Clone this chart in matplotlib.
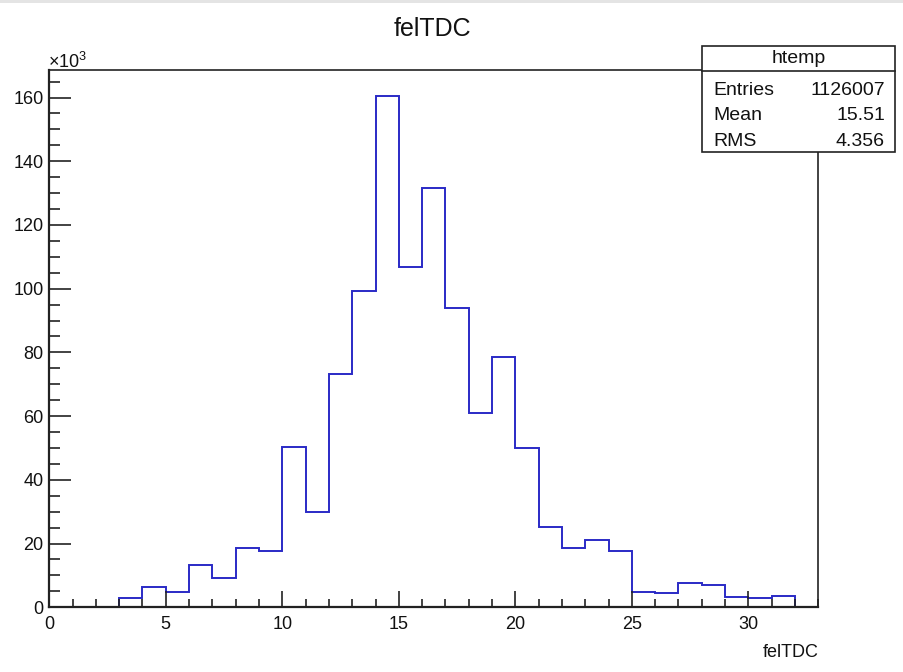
import matplotlib
matplotlib.use("Agg")
import matplotlib.pyplot as plt
from matplotlib.ticker import MultipleLocator
from matplotlib.patches import Rectangle

# felTDC distribution, one bin per TDC count, counts in thousands
bin_edges = list(range(0, 34))
counts_k = [0, 0, 0, 3.0, 6.4, 4.8, 13.2, 9.1, 18.5, 17.7,
            50.4, 29.9, 73.2, 99.4, 160.6, 106.7, 131.5, 93.9, 60.9, 78.7,
            50.1, 25.3, 18.6, 21.2, 17.6, 4.8, 4.5, 7.5, 7.0, 3.3,
            3.0, 3.4, 0]

hist_name = "htemp"
stat_labels = ["Entries", "Mean", "RMS"]
stat_values = ["1126007", "15.51", "4.356"]
title = "felTDC"
x_label = "felTDC"

plt.rcParams["font.family"] = ["Liberation Sans", "DejaVu Sans"]
plt.rcParams["mathtext.fontset"] = "custom"
plt.rcParams["mathtext.rm"] = "Liberation Sans"
plt.rcParams["mathtext.it"] = "Liberation Sans:italic"
plt.rcParams["mathtext.bf"] = "Liberation Sans:bold"

TXT = "#111111"
LINE = "#222222"

fig = plt.figure(figsize=(9.04, 6.72), dpi=100)
ax = fig.add_axes([0.0545, 0.0963, 0.8507, 0.7995])

ax.stairs(counts_k, bin_edges, color="#2a2ac6", linewidth=1.4, baseline=0)

ax.set_xlim(0, 33)
ax.set_ylim(0, max(counts_k) * 1.05)

ax.xaxis.set_major_locator(MultipleLocator(5))
ax.xaxis.set_minor_locator(MultipleLocator(1))
ax.yaxis.set_major_locator(MultipleLocator(20))
ax.yaxis.set_minor_locator(MultipleLocator(5))

ax.tick_params(axis="both", which="both", direction="in", top=False, right=False,
               color=LINE, width=1.2, labelsize=13, labelcolor=TXT)
ax.tick_params(axis="y", which="major", length=16, pad=4)
ax.tick_params(axis="y", which="minor", length=8)
ax.tick_params(axis="x", which="major", length=11.5, pad=6)
ax.tick_params(axis="x", which="minor", length=6)

for side, spine in ax.spines.items():
    spine.set_color(LINE)
    spine.set_linewidth(1.6 if side in ("left", "bottom") else 1.2)

# title and axis label
fig.text(0.478, 0.957, title, ha="center", va="center", fontsize=18, color=TXT)
ax.text(1.0, -0.085, x_label, transform=ax.transAxes, ha="right", va="center",
        fontsize=13, color=TXT)

# common exponent of the y axis
fig.text(0.053, 1 - 68 / 672, "\u00d710$^{3}$", ha="left", va="baseline",
         fontsize=13, color=TXT)

# statistics box
bx0, bx1 = 702 / 904, 895 / 904
by_top, by_bot = 1 - 46 / 672, 1 - 152 / 672
by_hdr = 1 - 71 / 672
fig.patches.append(Rectangle((bx0, by_bot), bx1 - bx0, by_top - by_bot,
                             transform=fig.transFigure, facecolor="white",
                             edgecolor=LINE, linewidth=1.2, zorder=5))
fig.lines.append(plt.Line2D([bx0, bx1], [by_hdr, by_hdr], transform=fig.transFigure,
                            color=LINE, linewidth=1.2, zorder=6))
fig.text((bx0 + bx1) / 2, (by_top + by_hdr) / 2, hist_name, ha="center", va="center",
         fontsize=14, color=TXT, zorder=7)
row_baselines = [95, 120.5, 145.5]
for lab, val, yb in zip(stat_labels, stat_values, row_baselines):
    fig.text(713 / 904, 1 - yb / 672, lab, ha="left", va="baseline",
             fontsize=14, color=TXT, zorder=7)
    fig.text(885 / 904, 1 - yb / 672, val, ha="right", va="baseline",
             fontsize=14, color=TXT, zorder=7)

# light band along the top edge
fig.patches.append(Rectangle((0, 1 - 3 / 672), 1, 3 / 672, transform=fig.transFigure,
                             facecolor="#e4e4e4", edgecolor="none", zorder=0))

fig.savefig("out.png", dpi=100)
